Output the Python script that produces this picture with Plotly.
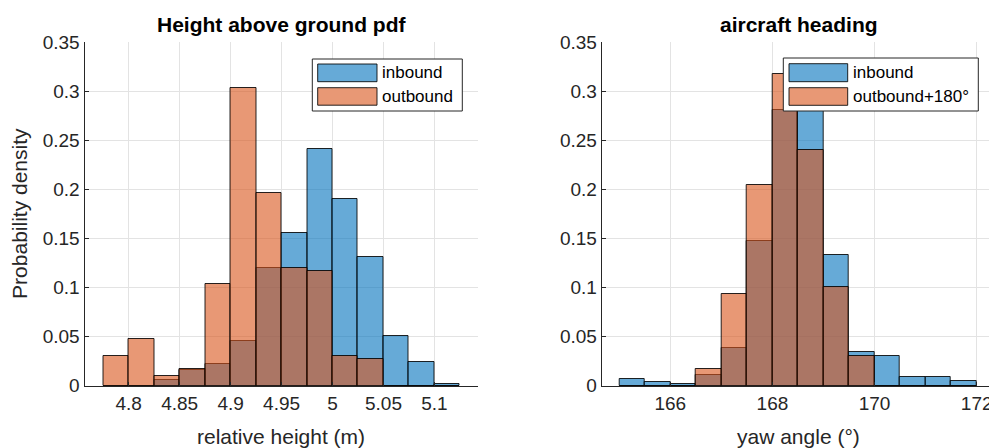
import plotly.graph_objects as go

# ---- data -------------------------------------------------------------
# Height above ground: bin edges start at 4.775 m, width 0.025 m
height_bin_start = 4.775
height_bin_width = 0.025
height_inbound = [0.0, 0.0, 0.0058, 0.0165, 0.0217, 0.0455, 0.1203, 0.1553,
                  0.2413, 0.1900, 0.1312, 0.0510, 0.0245, 0.0014]
height_outbound = [0.0302, 0.0472, 0.0102, 0.0167, 0.1036, 0.3034, 0.1967,
                   0.1203, 0.1169, 0.0299, 0.0268, 0.0, 0.0, 0.0]

# Aircraft heading: bin edges start at 165 deg, width 0.5 deg
yaw_bin_start = 165.0
yaw_bin_width = 0.5
yaw_inbound = [0.0065, 0.0037, 0.0014, 0.0105, 0.0387, 0.1475, 0.2807, 0.2900,
               0.1332, 0.0347, 0.0306, 0.0092, 0.0092, 0.0044]
yaw_outbound = [0.0, 0.0, 0.0, 0.0170, 0.0938, 0.2039, 0.3170, 0.2399,
                0.1002, 0.0302, 0.0, 0.0, 0.0, 0.0]

height_ticks = [4.8, 4.85, 4.9, 4.95, 5.0, 5.05, 5.1]
height_ticklabels = ["4.8", "4.85", "4.9", "4.95", "5", "5.05", "5.1"]
yaw_ticks = [166, 168, 170, 172]
y_ticks = [0, 0.05, 0.1, 0.15, 0.2, 0.25, 0.3, 0.35]
y_ticklabels = ["0", "0.05", "0.1", "0.15", "0.2", "0.25", "0.3", "0.35"]

# ---- style ------------------------------------------------------------
W, H = 989, 448
FONT = "Liberation Sans, Arial, Helvetica, sans-serif"
AX_COLOR = "#262626"
GRID_COLOR = "#e3e3e3"
BLUE = "rgba(0,114,189,0.6)"
ORANGE = "rgba(217,83,25,0.6)"
EDGE = "rgba(0,0,0,0.85)"


def px(x):
    return x / W


def py(y):
    return 1 - y / H


def centers(start, width, n):
    return [start + width * (i + 0.5) for i in range(n)]


fig = go.Figure()

hx = centers(height_bin_start, height_bin_width, len(height_inbound))
yx = centers(yaw_bin_start, yaw_bin_width, len(yaw_inbound))

for xs, vals, color, xa, ya in [
    (hx, height_inbound, BLUE, "x", "y"),
    (hx, height_outbound, ORANGE, "x", "y"),
    (yx, yaw_inbound, BLUE, "x2", "y2"),
    (yx, yaw_outbound, ORANGE, "x2", "y2"),
]:
    width = height_bin_width if xa == "x" else yaw_bin_width
    fig.add_trace(go.Bar(
        x=xs, y=vals, width=width, xaxis=xa, yaxis=ya,
        marker=dict(color=color, line=dict(color=EDGE, width=1)),
        showlegend=False, hoverinfo="skip",
    ))

# axes geometry (pixels)
left_x0, left_x1 = 84.5, 478
right_x0, right_x1 = 601.7, 989
y_top, y_bot = 42, 385.7

axis_common = dict(
    showgrid=True, gridcolor=GRID_COLOR, gridwidth=1,
    showline=True, linecolor=AX_COLOR, linewidth=1,
    ticks="inside", ticklen=4, tickcolor=AX_COLOR,
    tickfont=dict(family=FONT, size=19, color=AX_COLOR),
    ticklabeloverflow="allow",
    zeroline=False, automargin=False, fixedrange=True,
)

fig.update_layout(
    width=W, height=H,
    margin=dict(l=0, r=0, t=0, b=0),
    paper_bgcolor="white", plot_bgcolor="white",
    barmode="overlay", bargap=0,
    showlegend=False,
    xaxis=dict(axis_common, domain=[px(left_x0), px(left_x1)],
               range=[4.7566, 5.1428], tickvals=height_ticks,
               ticktext=height_ticklabels, anchor="y"),
    yaxis=dict(axis_common, domain=[py(y_bot), py(y_top)],
               range=[0, 0.35], tickvals=y_ticks, ticktext=y_ticklabels,
               anchor="x"),
    xaxis2=dict(axis_common, domain=[px(right_x0), px(right_x1)],
                range=[164.657, 164.657 + (right_x1 - right_x0) / 51.07],
                tickvals=yaw_ticks, ticktext=[str(t) for t in yaw_ticks],
                anchor="y2"),
    yaxis2=dict(axis_common, domain=[py(y_bot), py(y_top)],
                range=[0, 0.35], tickvals=y_ticks, ticktext=y_ticklabels,
                anchor="x2"),
)

annotations = []
shapes = []


def text(x, y, s, size, xanchor="center", yanchor="middle",
         angle=0, color="black"):
    annotations.append(dict(
        x=px(x), y=py(y), xref="paper", yref="paper", text=s,
        showarrow=False, xanchor=xanchor, yanchor=yanchor, textangle=angle,
        font=dict(family=FONT, size=size, color=color),
    ))


# titles and axis labels
text(281, 25, "<b>Height above ground pdf</b>", 21)
text(798.7, 25, "<b>aircraft heading</b>", 21)
text(281, 436, "relative height (m)", 21, color=AX_COLOR)
text(798.7, 436, "yaw angle (°)", 21, color=AX_COLOR)
text(20, 213.9, "Probability density", 21, angle=-90, color=AX_COLOR)


def legend(box, sw_x, rows, text_x):
    bx0, bx1, by0, by1 = box
    shapes.append(dict(type="rect", xref="paper", yref="paper",
                       x0=px(bx0), x1=px(bx1), y0=py(by1), y1=py(by0),
                       fillcolor="white", line=dict(color=AX_COLOR, width=1)))
    for (ry0, ry1, color, label) in rows:
        shapes.append(dict(type="rect", xref="paper", yref="paper",
                           x0=px(sw_x[0]), x1=px(sw_x[1]),
                           y0=py(ry1), y1=py(ry0),
                           fillcolor=color, line=dict(color=EDGE, width=1)))
        text(text_x, (ry0 + ry1) / 2, label, 17, xanchor="left")


legend((312.3, 462.3, 59, 111), (317.7, 377),
       [(64, 81.7, BLUE, "inbound"), (87.7, 105.2, ORANGE, "outbound")],
       379.5)
legend((783.3, 978.3, 58, 111), (789, 847.7),
       [(63.7, 81.7, BLUE, "inbound"), (87.7, 105.3, ORANGE, "outbound+180°")],
       850.5)

fig.update_layout(annotations=annotations, shapes=shapes)

fig.write_html("out.html")
